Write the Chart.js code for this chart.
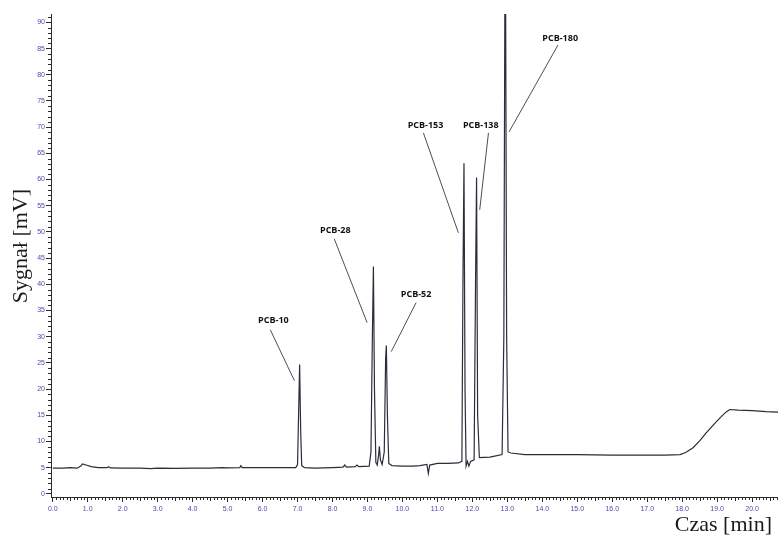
<!DOCTYPE html>
<html lang="pl">
<head>
<meta charset="utf-8">
<title>Chromatogram PCB</title>
<script src="https://cdn.jsdelivr.net/npm/chart.js@4/dist/chart.umd.min.js"></script>
<style>
  html, body { margin: 0; padding: 0; background: #ffffff; }
  canvas { display: block; }
</style>
</head>
<body>
<canvas id="chromatogram" width="778" height="536"></canvas>
<script>
// Retention time [min] and detector signal [mV]
const retentionTimes = [
  0.0, 0.3, 0.5, 0.7, 0.8, 0.85, 0.95, 1.1, 1.3, 1.55, 1.6, 1.65, 2.0, 2.5, 2.8, 3.0,
  3.5, 4.0, 4.5, 4.85, 5.0, 5.35, 5.38, 5.42, 6.0, 6.5, 6.95, 7.0, 7.03, 7.06, 7.09, 7.12,
  7.2, 7.5, 8.0, 8.3, 8.35, 8.4, 8.65, 8.7, 8.75, 9.05, 9.1, 9.14, 9.17, 9.2, 9.24, 9.28,
  9.32, 9.34, 9.37, 9.42, 9.48, 9.52, 9.54, 9.57, 9.61, 9.7, 10.0, 10.3, 10.5, 10.7, 10.74, 10.78,
  11.0, 11.3, 11.6, 11.7, 11.73, 11.76, 11.79, 11.82, 11.86, 11.9, 11.95, 12.05, 12.09, 12.12, 12.15, 12.2,
  12.5, 12.85, 12.9, 12.93, 12.95, 12.98, 13.02, 13.1, 13.5, 14.0, 15.0, 16.0, 17.0, 17.5, 17.94, 18.1,
  18.31, 18.5, 18.68, 18.9, 19.08, 19.25, 19.36, 19.6, 20.0, 20.4, 20.74
];
const signalMv = [
  4.9, 4.9, 5.0, 4.9, 5.3, 5.7, 5.5, 5.2, 5.0, 5.0, 5.2, 4.95, 4.9, 4.9, 4.8, 4.9,
  4.85, 4.9, 4.9, 5.0, 4.95, 5.0, 5.4, 5.0, 5.0, 5.0, 5.0, 5.6, 15.0, 24.7, 12.0, 5.4,
  5.0, 4.9, 5.0, 5.1, 5.5, 5.1, 5.2, 5.5, 5.2, 5.3, 8.0, 30.0, 43.4, 20.0, 6.0, 5.5,
  7.5, 9.1, 6.5, 5.6, 8.0, 26.0, 28.3, 15.0, 5.8, 5.4, 5.3, 5.3, 5.4, 5.6, 3.9, 5.5,
  5.8, 5.8, 5.9, 6.2, 40.0, 63.1, 20.0, 5.3, 6.2, 5.3, 6.2, 6.5, 40.0, 60.4, 15.0, 6.9,
  7.0, 7.5, 30.0, 96.0, 96.0, 30.0, 8.0, 7.8, 7.5, 7.5, 7.5, 7.4, 7.4, 7.4, 7.5, 7.9,
  8.8, 10.1, 11.6, 13.2, 14.5, 15.6, 16.1, 16.0, 15.9, 15.7, 15.6
];

// Peak names and their apex retention times
const peakNames = ['PCB-10', 'PCB-28', 'PCB-52', 'PCB-153', 'PCB-138', 'PCB-180'];
const peakTimes = [7.06, 9.17, 9.54, 11.76, 12.12, 12.95];

// Axis tick settings
const timeRange = [-0.05, 20.74];
const signalRange = [-0.6, 91.6];
const timeStep = 1;
const signalStep = 5;

// Label placement in data units: text centre, leader line start and end
const labelPlacement = [
  { text: [6.31, 33.06], from: [6.22, 31.34], to: [6.91, 21.62] },
  { text: [8.08, 50.22], from: [8.05, 48.69], to: [8.99, 32.68] },
  { text: [10.39, 38.02], from: [10.39, 36.49], to: [9.68, 27.15] },
  { text: [10.66, 70.24], from: [10.60, 68.90], to: [11.60, 49.83] },
  { text: [12.24, 70.24], from: [12.46, 68.90], to: [12.21, 54.22] },
  { text: [14.51, 87.02], from: [14.45, 85.69], to: [13.05, 69.10] }
];

const points = retentionTimes.map((t, i) => ({ x: t, y: signalMv[i] }));

const axisColor = '#2a2a2a';
const tickLabelColor = '#4a4aa6';

// Minor ticks every 0.1 min and every 1 mV, plus the axis titles
const minorTicks = {
  id: 'minorTicks',
  afterDraw(chart) {
    const { ctx, chartArea, scales } = chart;
    const x = scales.x, y = scales.y;
    ctx.save();
    ctx.strokeStyle = axisColor;
    ctx.lineWidth = 1;
    ctx.beginPath();
    for (let i = 0; i <= Math.floor(timeRange[1] * 10); i++) {
      if (i % 10 === 0) continue;
      const px = Math.round(x.getPixelForValue(i / 10)) + 0.5;
      const len = i % 5 === 0 ? 4 : 3;
      ctx.moveTo(px, chartArea.bottom);
      ctx.lineTo(px, chartArea.bottom + len);
    }
    for (let v = 0; v <= Math.floor(signalRange[1]); v++) {
      if (v % signalStep === 0) continue;
      const py = Math.round(y.getPixelForValue(v)) + 0.5;
      ctx.moveTo(chartArea.left - 3, py);
      ctx.lineTo(chartArea.left, py);
    }
    ctx.stroke();

    // Axis titles
    ctx.fillStyle = '#1a1a1a';
    ctx.font = '22px "Liberation Serif", "Times New Roman", serif';
    ctx.textAlign = 'center';
    ctx.textBaseline = 'middle';
    ctx.save();
    ctx.translate(21, 246);
    ctx.rotate(-Math.PI / 2);
    ctx.fillText('Sygnał [mV]', 0, 0);
    ctx.restore();
    ctx.textAlign = 'right';
    ctx.textBaseline = 'alphabetic';
    ctx.fillText('Czas [min]', 772, 531);
    ctx.restore();
  }
};

// Peak labels with leader lines
const peakLabels = {
  id: 'peakLabels',
  afterDatasetsDraw(chart) {
    const { ctx, scales } = chart;
    const x = scales.x, y = scales.y;
    ctx.save();
    ctx.strokeStyle = '#3a3a3a';
    ctx.lineWidth = 0.9;
    ctx.fillStyle = '#111111';
    ctx.font = 'bold 9px "Open Sans", "Liberation Sans", sans-serif';
    ctx.textAlign = 'center';
    ctx.textBaseline = 'middle';
    peakNames.forEach((name, i) => {
      const p = labelPlacement[i];
      ctx.beginPath();
      ctx.moveTo(x.getPixelForValue(p.from[0]), y.getPixelForValue(p.from[1]));
      ctx.lineTo(x.getPixelForValue(p.to[0]), y.getPixelForValue(p.to[1]));
      ctx.stroke();
      ctx.fillText(name, x.getPixelForValue(p.text[0]), y.getPixelForValue(p.text[1]));
    });
    ctx.restore();
  }
};

new Chart(document.getElementById('chromatogram'), {
  type: 'line',
  data: {
    datasets: [{
      label: 'Sygnał',
      data: points,
      borderColor: '#2c2c3c',
      borderWidth: 1.2,
      pointRadius: 0,
      tension: 0,
      fill: false
    }]
  },
  options: {
    responsive: false,
    animation: false,
    devicePixelRatio: 1,
    layout: { padding: { top: 14, right: 0, bottom: 0, left: 0 } },
    plugins: {
      legend: { display: false },
      tooltip: { enabled: false },
      title: { display: false }
    },
    scales: {
      x: {
        type: 'linear',
        min: timeRange[0],
        max: timeRange[1],
        grid: { drawOnChartArea: false, drawTicks: true, tickLength: 5, tickColor: axisColor },
        border: { display: true, color: axisColor, width: 1 },
        ticks: {
          stepSize: timeStep,
          includeBounds: false,
          autoSkip: false,
          maxRotation: 0,
          padding: 3,
          color: tickLabelColor,
          font: { family: '"Liberation Sans", Arial, sans-serif', size: 7 },
          callback: v => Number(v).toFixed(1)
        },
        afterFit: s => { s.height = 39; }
      },
      y: {
        type: 'linear',
        min: signalRange[0],
        max: signalRange[1],
        grid: { drawOnChartArea: false, drawTicks: true, tickLength: 5, tickColor: axisColor },
        border: { display: true, color: axisColor, width: 1 },
        ticks: {
          stepSize: signalStep,
          includeBounds: false,
          autoSkip: false,
          padding: 1,
          color: tickLabelColor,
          font: { family: '"Liberation Sans", Arial, sans-serif', size: 7 },
          callback: v => String(v)
        },
        afterFit: s => { s.width = 51; }
      }
    }
  },
  plugins: [minorTicks, peakLabels]
});
</script>
</body>
</html>
